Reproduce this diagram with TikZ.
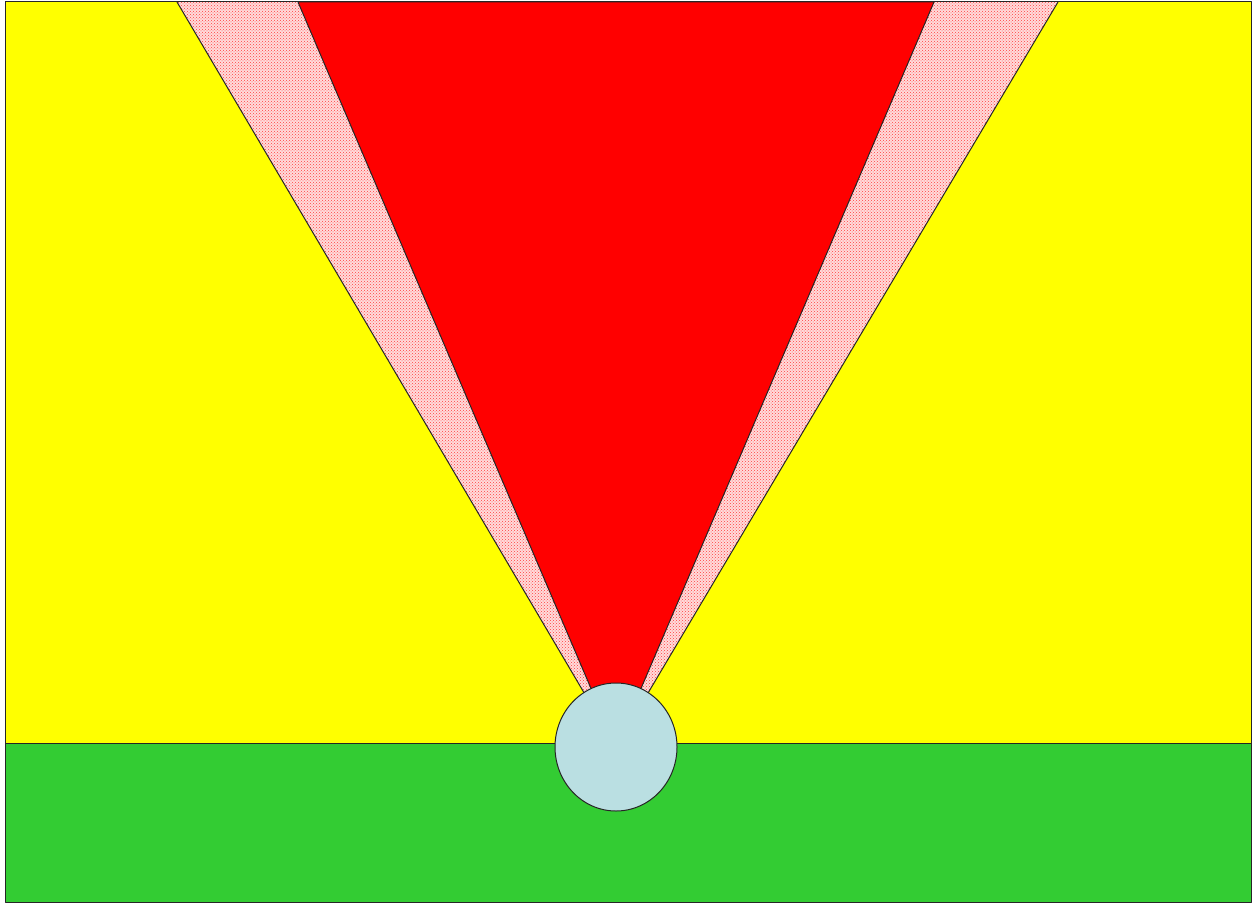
\documentclass[tikz,border=0pt]{standalone}
\usetikzlibrary{patterns}
\definecolor{sky}{RGB}{255,255,0}
\definecolor{grass}{RGB}{51,204,51}
\definecolor{beam}{RGB}{255,0,0}
\definecolor{lamp}{RGB}{186,223,226}
\tikzset{
	outline/.style={draw=black!85, line width=1pt, line join=round},
}
\begin{document}
\begin{tikzpicture}[x=1pt, y=-1pt]
		\useasboundingbox (0,0) rectangle (1255,904);
		% ground and sky
		\filldraw[outline, fill=sky] (5,2) rectangle (1251,743);
		\filldraw[outline, fill=grass] (5,743) rectangle (1251,902);
		% outer halo of the beam
		\coordinate (src) at (616,747);
		\fill[beam!14] (177,2) -- (1058,2) -- (src) -- cycle;
		\fill[pattern=crosshatch dots, pattern color=beam!75] (177,2) -- (1058,2) -- (src) -- cycle;
		\draw[outline] (177,2) -- (src) -- (1058,2);
		% main beam
		\filldraw[outline, fill=beam] (298,2) -- (934,2) -- (src) -- cycle;
		\draw[outline] (5,2) -- (1251,2);
		% lamp
		\filldraw[outline, fill=lamp] (src) ellipse (61 and 64);
	\end{tikzpicture}
\end{document}
